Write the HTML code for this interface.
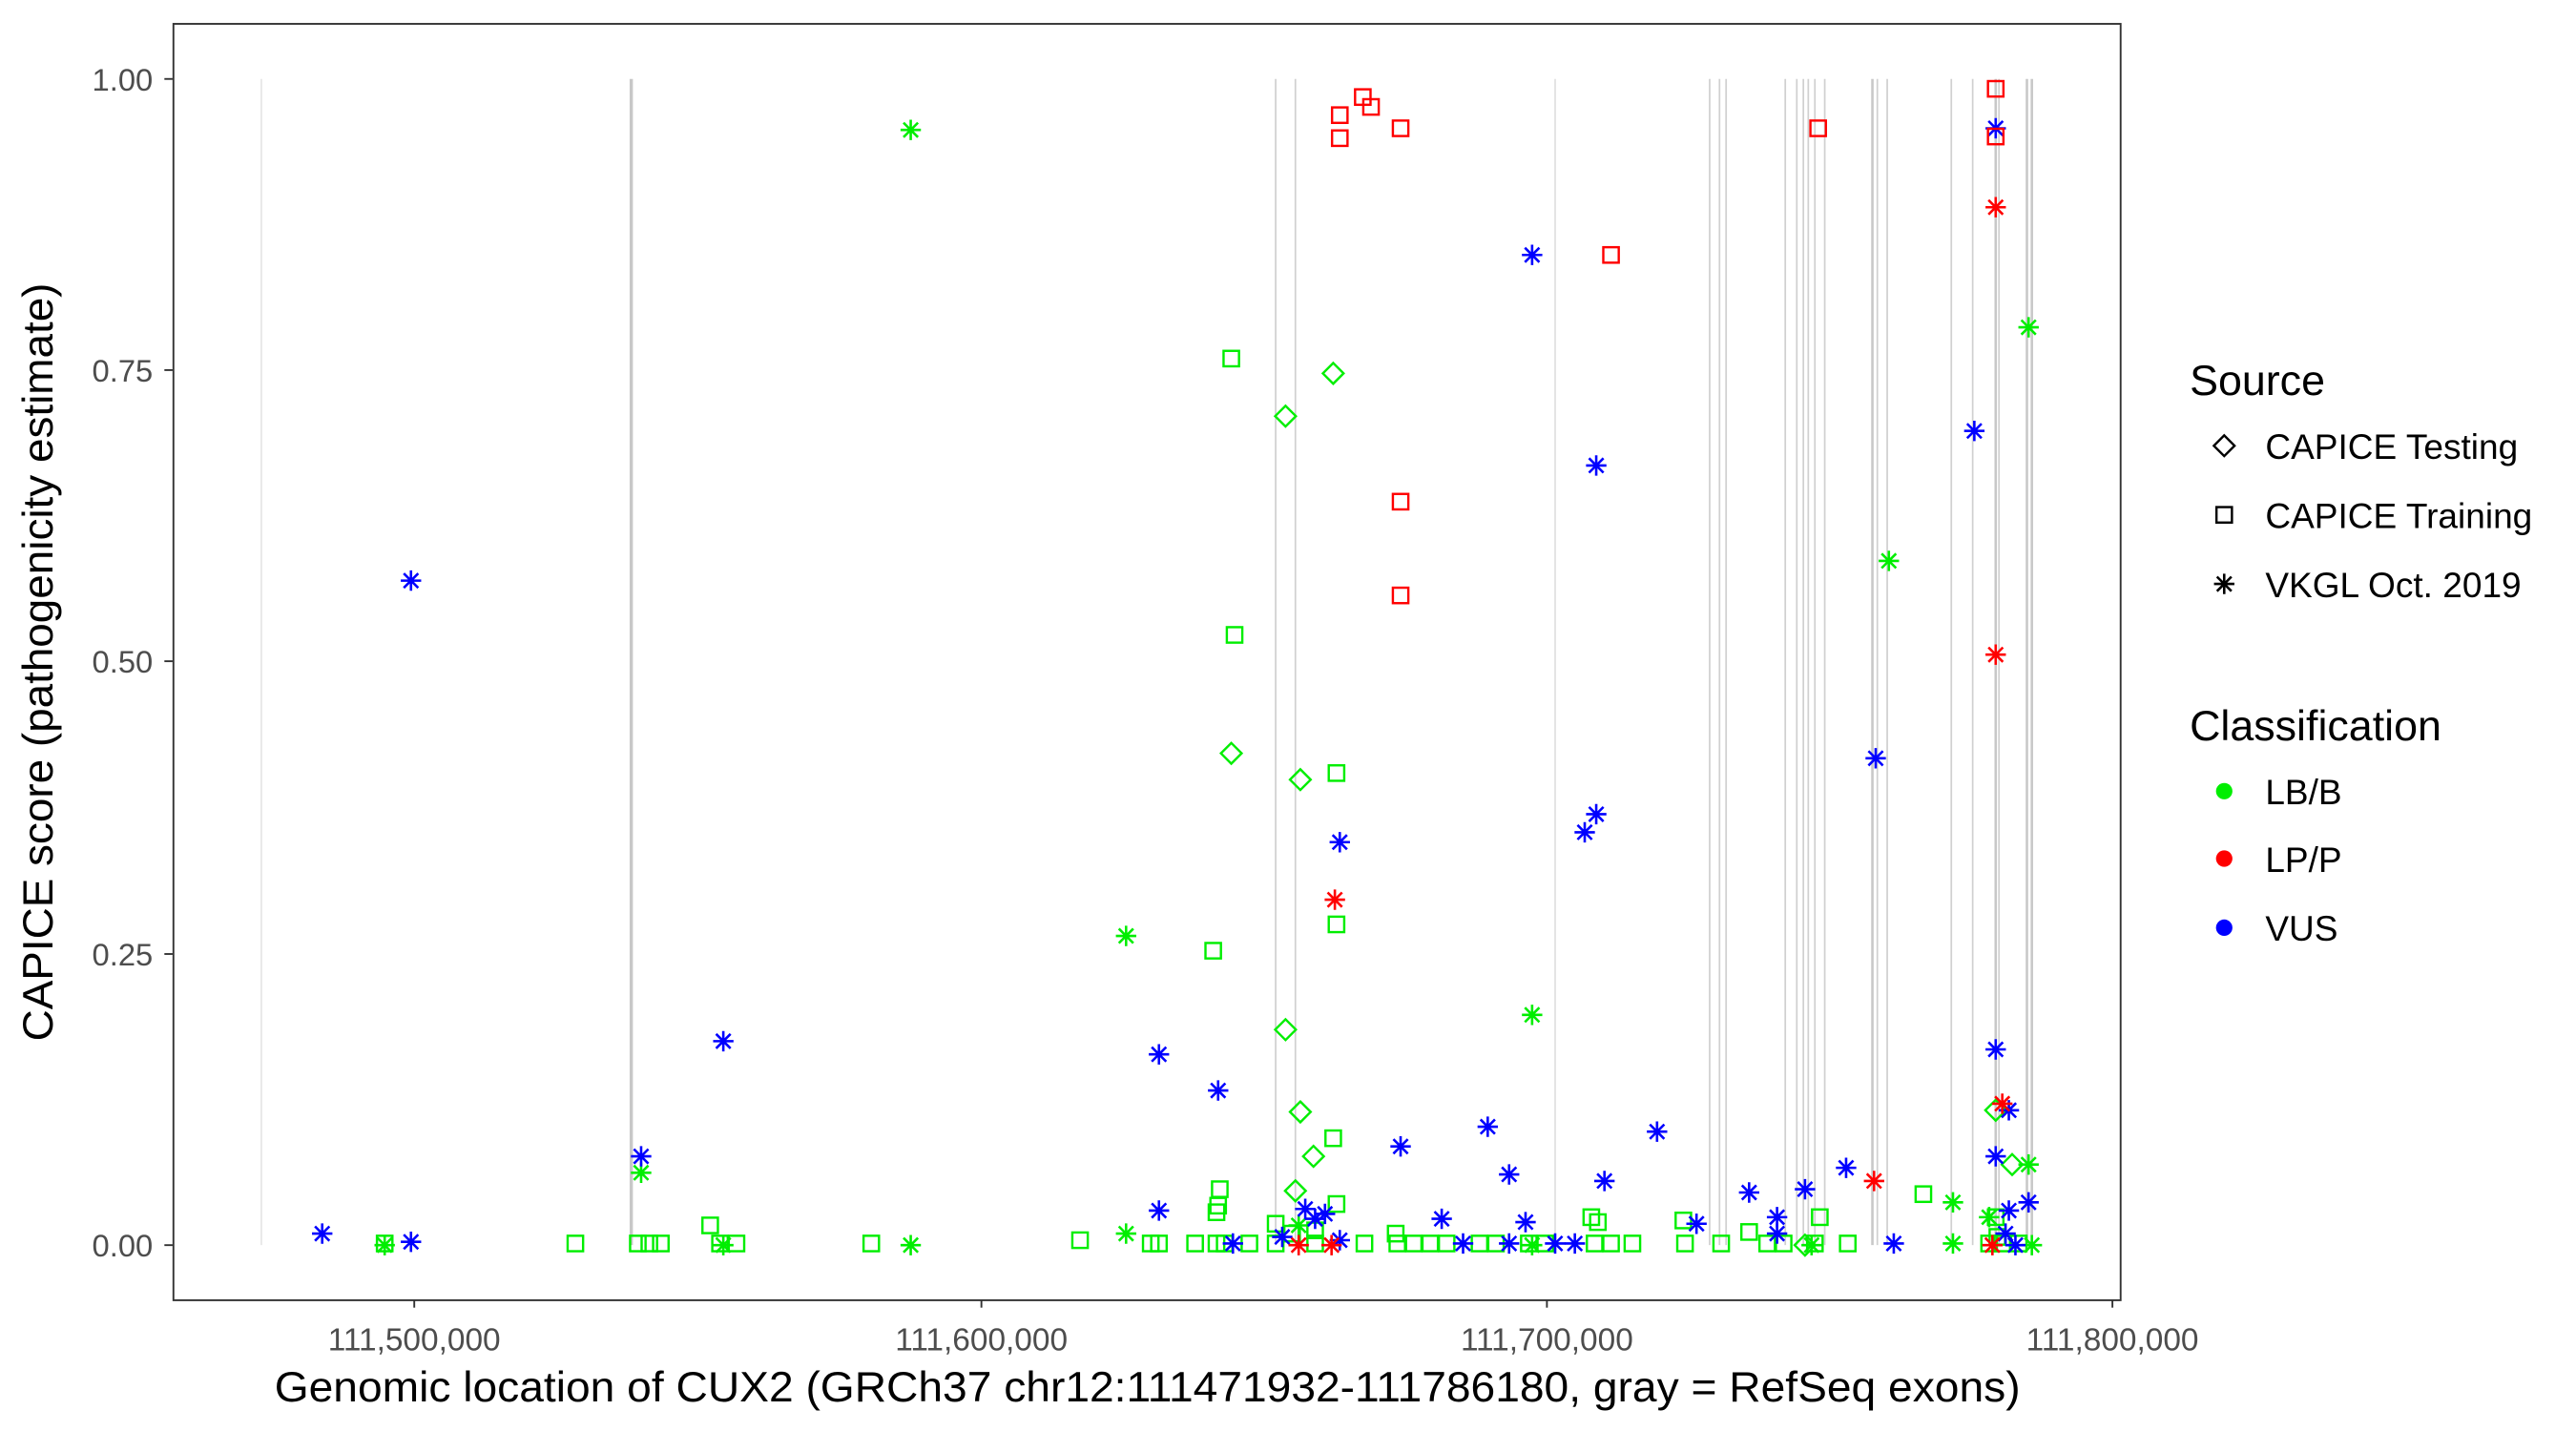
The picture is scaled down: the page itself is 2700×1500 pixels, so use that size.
<!DOCTYPE html>
<html><head><meta charset="utf-8"><style>
html,body{margin:0;padding:0;background:#fff;width:2700px;height:1500px;overflow:hidden}
svg{display:block}
text{font-family:"Liberation Sans",Arial,sans-serif}
</style></head><body>
<svg id="s" width="2700" height="1500" viewBox="0 0 1567 870" preserveAspectRatio="none" xmlns="http://www.w3.org/2000/svg">
<defs>
<g id="sq"><rect x="-4.7" y="-4.7" width="9.4" height="9.4" fill="none" stroke-width="1.4"/></g>
<g id="dm"><path d="M0,-6.3 L6.3,0 L0,6.3 L-6.3,0Z" fill="none" stroke-width="1.4"/></g>
<g id="st" stroke-width="1.5"><path d="M0,-6.2V6.2M-6.2,0H6.2M-4.4,-4.4L4.4,4.4M-4.4,4.4L4.4,-4.4"/></g>
</defs>
<rect x="0" y="0" width="1567" height="870" fill="#fff"/>
<g id="gl"></g>
<g id="pts"></g>
<rect x="105.5" y="14.5" width="1184.5" height="776" fill="none" stroke="#333" stroke-width="1.1"/>
<g stroke="#333" stroke-width="1.1">
<line x1="100" x2="105" y1="48" y2="48"/><line x1="100" x2="105" y1="225" y2="225"/><line x1="100" x2="105" y1="402" y2="402"/><line x1="100" x2="105" y1="580" y2="580"/><line x1="100" x2="105" y1="757" y2="757"/>
<line x1="252" x2="252" y1="790" y2="795"/><line x1="597" x2="597" y1="790" y2="795"/><line x1="941" x2="941" y1="790" y2="795"/><line x1="1285" x2="1285" y1="790" y2="795"/>
</g>
<g fill="#4d4d4d" font-size="19" text-anchor="end">
<text x="93" y="55">1.00</text><text x="93" y="232">0.75</text><text x="93" y="409">0.50</text><text x="93" y="587">0.25</text><text x="93" y="764">0.00</text>
</g>
<g fill="#4d4d4d" font-size="19.4" text-anchor="middle">
<text x="252" y="821">111,500,000</text><text x="597" y="821">111,600,000</text><text x="941" y="821">111,700,000</text><text x="1285" y="821">111,800,000</text>
</g>
<text x="167" y="852" font-size="26" textLength="1062" lengthAdjust="spacingAndGlyphs">Genomic location of CUX2 (GRCh37 chr12:111471932-111786180, gray = RefSeq exons)</text>
<text transform="translate(32,633) rotate(-90)" font-size="26" textLength="461" lengthAdjust="spacingAndGlyphs">CAPICE score (pathogenicity estimate)</text>
<text x="1332" y="240" font-size="26">Source</text>
<use href="#dm" x="1353" y="271" stroke="#000"/>
<use href="#sq" x="1353" y="313" stroke="#000"/>
<use href="#st" x="1353" y="355" stroke="#000"/>
<g font-size="21.5"><text x="1378" y="279">CAPICE Testing</text><text x="1378" y="321">CAPICE Training</text><text x="1378" y="363">VKGL Oct. 2019</text></g>
<text x="1332" y="450" font-size="26">Classification</text>
<circle cx="1353" cy="481" r="5" fill="#00ee00"/><circle cx="1353" cy="522" r="5" fill="#ff0000"/><circle cx="1353" cy="564" r="5" fill="#0000ff"/>
<g font-size="21.5"><text x="1378" y="489">LB/B</text><text x="1378" y="530">LP/P</text><text x="1378" y="572">VUS</text></g>
</svg>
<script>
var NS="http://www.w3.org/2000/svg";
var gl=document.getElementById("gl");
[[159,0.8,"#e0e0e0"],[384,2,"#c8c8c8"],[776,1,"#d0d0d0"],[788,1,"#d0d0d0"],[946,1,"#e0e0e0"],[1040,1,"#d0d0d0"],[1046,1,"#d0d0d0"],[1050,1,"#d0d0d0"],[1086,1,"#d0d0d0"],[1093,1,"#d0d0d0"],[1097,1,"#d0d0d0"],[1100,1,"#d0d0d0"],[1104,1,"#d0d0d0"],[1110,1,"#d0d0d0"],[1139,1.5,"#c8c8c8"],[1142,1,"#d0d0d0"],[1148,1,"#d0d0d0"],[1187,1,"#d0d0d0"],[1200,1,"#d0d0d0"],[1214,1.5,"#c8c8c8"],[1216,1,"#d0d0d0"],[1233,1.5,"#c8c8c8"],[1236,1.5,"#c8c8c8"]].forEach(function(l){
 var e=document.createElementNS(NS,"line");e.setAttribute("x1",l[0]);e.setAttribute("x2",l[0]);e.setAttribute("y1",48);e.setAttribute("y2",757);e.setAttribute("stroke",l[2]);e.setAttribute("stroke-width",l[1]);gl.appendChild(e);});
var R="#ff0000",B="#0000ff",G="#00ee00";
var P=[];
function add(arr,s,c){arr.forEach(function(p){P.push([p[0],p[1],s,c]);});}
add([[1170,726],[1064,749],[1107,740],[968,740],[972,743],[1024,742],[432,745],[350,756],[530,756],[657,754],[388,756],[395,756],[402,756],[438,756],[448,756],[700,756],[705,756],[727,756],[740,756],[745,756],[760,756],[776,756],[800,756],[830,756],[850,756],[860,756],[870,756],[880,756],[900,756],[910,756],[930,756],[940,756],[970,756],[980,756],[993,756],[1025,756],[1047,756],[1075,756],[1085,756],[1104,756],[1124,756],[1214,740],[1218,756],[1228,756],[1210,756],[849,750],[786,750],[800,748],[234,756],[1215,752],[749,218],[751,386],[813,470],[738,578],[813,562],[811,692],[742,723],[741,733],[740,737],[813,732],[776,744]],"sq",G);
add([[749,458],[791,474],[782,253],[811,227],[782,626],[791,676],[799,703],[788,724],[1214,675],[1224,708],[1098,757]],"dm",G);
add([[554,79],[1234,199],[1149,341],[685,569],[932,617],[390,713],[685,750],[1188,731],[1234,708],[1188,756],[1210,740],[554,757],[234,757],[440,757],[790,745],[932,757],[1236,757],[1102,757]],"st",G);
add([[250,353],[932,155],[971,283],[1201,262],[1214,78],[1141,461],[971,495],[964,506],[815,512],[440,633],[705,641],[741,663],[852,697],[905,685],[1008,688],[918,714],[976,718],[1123,710],[1098,723],[1064,725],[1081,740],[1032,744],[877,741],[1214,638],[1214,703],[1222,675],[1234,731],[1222,736],[705,736],[390,703],[196,750],[250,755],[794,735],[800,741],[806,738],[780,752],[815,754],[750,756],[890,756],[928,743],[918,756],[946,756],[958,756],[1152,756],[1081,750],[1220,750],[1226,757]],"st",B);
add([[815,70],[829,59],[834,65],[815,84],[852,78],[1106,78],[980,155],[852,305],[852,362],[1214,54],[1214,83]],"sq",R);
add([[1214,126],[1214,398],[812,547],[1140,718],[1218,671],[790,757],[810,757],[1212,757]],"st",R);
var g=document.getElementById("pts");
P.forEach(function(p){var u=document.createElementNS(NS,"use");u.setAttribute("href","#"+p[2]);u.setAttribute("x",p[0]);u.setAttribute("y",p[1]);u.setAttribute("stroke",p[3]);g.appendChild(u);});
</script>
</body></html>
